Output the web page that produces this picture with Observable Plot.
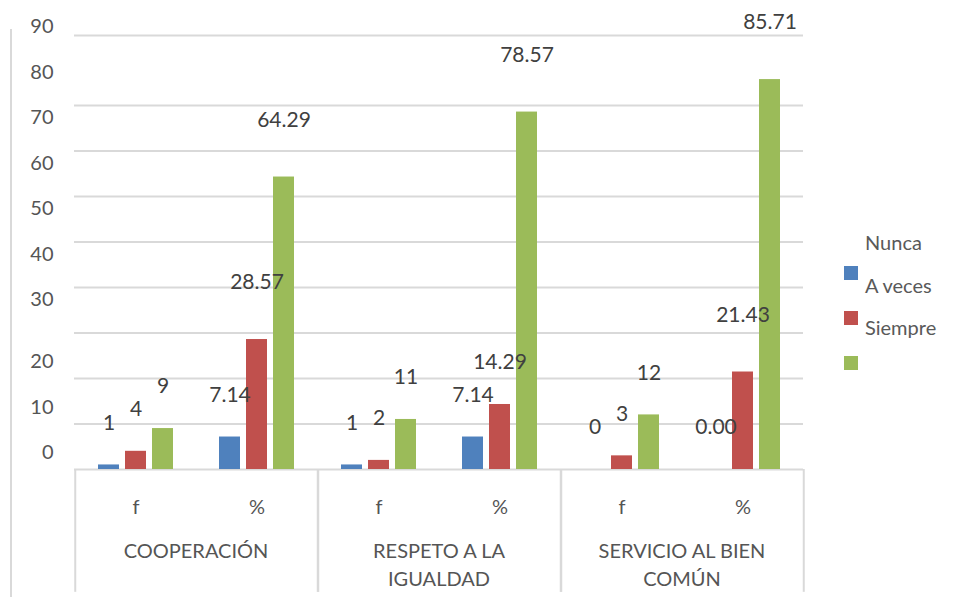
<!DOCTYPE html>
<html>
<head>
<meta charset="utf-8">
<script src="https://cdn.jsdelivr.net/npm/d3@7"></script>
<script src="https://cdn.jsdelivr.net/npm/@observablehq/plot@0.6"></script>
<style>
  html, body { margin: 0; padding: 0; background: #fff; }
  #wrap { position: relative; width: 955px; height: 597px; overflow: hidden; font-family: Lato, "Liberation Sans", sans-serif; }
  #border { position: absolute; left: 10px; top: 29px; height: 580px; border-left: 2px solid #d9d9d9; }
  #legend { position: absolute; left: 844px; top: 228px; color: #595959; font-size: 20px; }
  .sw { position: absolute; left: 0; width: 14px; height: 14px; }
  .lt { position: absolute; left: 21px; white-space: nowrap; line-height: 28px; }
</style>
</head>
<body>
<div id="wrap">
  <div id="border"></div>
  <div id="chart"></div>
  <div id="legend"></div>
</div>
<script>
// ---- data ----
const categories = ["COOPERACIÓN", "RESPETO A LA IGUALDAD", "SERVICIO AL BIEN COMÚN"];
const categoryLabels = ["COOPERACIÓN", "RESPETO A LA\nIGUALDAD", "SERVICIO AL BIEN\nCOMÚN"];
const subcategories = ["f", "%"];
const seriesNames = ["Nunca", "A veces", "Siempre"];
const seriesColors = ["#4f81bd", "#c0504d", "#9bbb59"];
// values in order: COOPERACIÓN f, %, RESPETO f, %, SERVICIO f, %
const nunca   = [1, 7.14, 1, 7.14, 0, 0.00];
const aVeces  = [4, 28.57, 2, 14.29, 3, 21.43];
const siempre = [9, 64.29, 11, 78.57, 12, 85.71];
const gridTicks = [0, 10, 20, 30, 40, 50, 60, 70, 80];
const yTop = 95.4;
const lowTickLabels = [0, 10, 20];
const highTickLabels = [30, 40, 50, 60, 70, 80, 90];

const seriesValues = [nunca, aVeces, siempre];
const rows = [];
categories.forEach((cat, i) => subcategories.forEach((sub, j) => {
  const k = i * subcategories.length + j;
  seriesNames.forEach((name, s) => {
    const v = seriesValues[s][k];
    rows.push({category: cat, sub, series: name, value: v, label: sub === "f" ? String(v) : v.toFixed(2)});
  });
}));

const offsets = [-27, 0, 27];
const textColor = "#404040";
const axisColor = "#555555";
const lineColor = "#d9d9d9";

const barMarks = seriesNames.map((name, s) => Plot.barY(rows, {
  filter: d => d.series === name,
  x: "sub", y: "value", fill: seriesColors[s],
  insetLeft: 50, insetRight: 50, dx: offsets[s]
}));
const labelMarks = seriesNames.flatMap((name, s) => [
  Plot.text(rows, {filter: d => d.series === name && d.value < 20, x: "sub", y: "value", text: "label",
    dx: offsets[s], dy: -42, fontSize: 21, fill: textColor}),
  Plot.text(rows, {filter: d => d.series === name && d.value >= 20, x: "sub", y: "value", text: "label",
    dx: offsets[s], dy: -57, fontSize: 21, fill: textColor})
]);

const catLabel = new Map(categories.map((c, i) => [c, categoryLabels[i]]));

const plot = Plot.plot({
  width: 955,
  height: 597,
  marginLeft: 74,
  marginRight: 152,
  marginTop: 35,
  marginBottom: 128,
  style: {fontFamily: "Lato, 'Liberation Sans', sans-serif", fontSize: "20px", color: axisColor, background: "transparent"},
  facet: {data: rows, x: "category"},
  fx: {domain: categories, padding: 0, label: null},
  x: {domain: subcategories, padding: 0, label: null},
  y: {domain: [0, yTop], label: null},
  marks: [
    Plot.ruleY(gridTicks, {stroke: lineColor, strokeWidth: 2}),
    Plot.ruleY([yTop], {stroke: lineColor, strokeWidth: 2}),
    Plot.ruleX([subcategories[0]], {x: d => d, y1: 0, y2: -27, dx: -60.75, stroke: lineColor, strokeWidth: 2}),
    Plot.ruleX([subcategories[1]], {x: d => d, y1: 0, y2: -27, dx: 60.75, stroke: lineColor, strokeWidth: 2}),
    ...barMarks,
    ...labelMarks,
    Plot.axisY(lowTickLabels, {tickSize: 0, tickPadding: 21, dy: -16.5, label: null, fill: axisColor}),
    Plot.axisY(highTickLabels, {tickSize: 0, tickPadding: 21, dy: -33, label: null, fill: axisColor}),
    Plot.axisX({tickSize: 0, tickPadding: 30, label: null, fill: axisColor}),
    Plot.axisFx({anchor: "bottom", tickSize: 0, tickPadding: 69, label: null, lineHeight: 1.4,
      tickFormat: d => catLabel.get(d), fill: axisColor})
  ]
});
document.getElementById("chart").appendChild(plot);

// legend (order/offsets follow the reference layout)
const legend = document.getElementById("legend");
seriesNames.forEach((name, s) => {
  const sw = document.createElement("div");
  sw.className = "sw";
  sw.style.background = seriesColors[s];
  sw.style.top = (38 + s * 45) + "px";
  legend.appendChild(sw);
  const t = document.createElement("div");
  t.className = "lt";
  t.textContent = name;
  t.style.top = (s * 42.5) + "px";
  legend.appendChild(t);
});
</script>
</body>
</html>
